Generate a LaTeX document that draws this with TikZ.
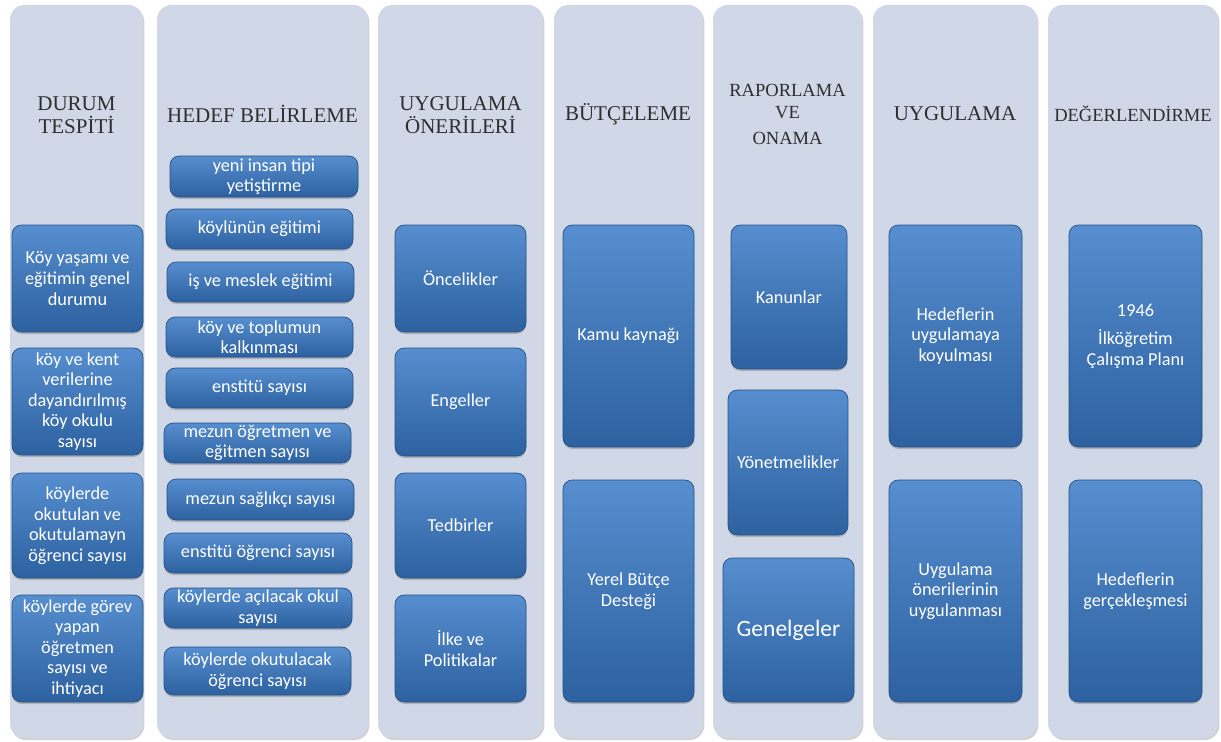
\documentclass[tikz,border=0pt]{standalone}
\usepackage{fontspec}
\setmainfont{Liberation Serif}
\setsansfont{Carlito}
\usetikzlibrary{shadows}

\definecolor{kolonmavi}{RGB}{208,216,232}
\definecolor{kutuust}{RGB}{86,142,207}
\definecolor{kutuorta}{RGB}{64,118,186}
\definecolor{kutualt}{RGB}{45,97,160}
\definecolor{kutukenar}{RGB}{37,80,132}
\definecolor{baslikgri}{RGB}{45,45,45}

\begin{document}
\begin{tikzpicture}[x=0.75pt,y=-0.75pt,
  kolon/.style={fill=kolonmavi, rounded corners=11pt,
    drop shadow={shadow xshift=1pt, shadow yshift=-1.5pt, opacity=0.35}},
  baslik/.style={font=\fontsize{15.75}{17.5}\selectfont, text=baslikgri, align=center},
  kucukbaslik/.style={baslik, font=\fontsize{13.9}{17}\selectfont},
  kutu/.style={rounded corners=7pt, top color=kutuust, middle color=kutuorta, bottom color=kutualt,
    draw=kutukenar, line width=0.5pt, text=white, align=center, inner sep=0pt,
    font=\sffamily\fontsize{13.7}{15.4}\selectfont,
    drop shadow={shadow xshift=0pt, shadow yshift=-1.5pt, opacity=0.45}},
  boyut/.style 2 args={minimum width=#1*0.75pt, minimum height=#2*0.75pt},
]
\fill[white] (0,0) rectangle (1221,742);
\useasboundingbox (0,0) rectangle (1221,742);

%Column backgrounds
\path[kolon] (10,5) rectangle (143,738);
\path[kolon] (157,5) rectangle (368,738);
\path[kolon] (378,5) rectangle (543,738);
\path[kolon] (554,5) rectangle (703,738);
\path[kolon] (713,5) rectangle (862,738);
\path[kolon] (873,5) rectangle (1037,738);
\path[kolon] (1048,5) rectangle (1218,738);

%Headings
\node[baslik] (durum) at (76.5,115) {DURUM\\TESPİTİ};
\node[baslik] (hedef) at (262.5,114) {HEDEF BELİRLEME};
\node[baslik] (oneri) at (460.5,115) {UYGULAMA\\ÖNERİLERİ};
\node[baslik] (butce) at (628,114) {BÜTÇELEME};
\node[kucukbaslik] (rapor) at (787.5,114) {RAPORLAMA\\VE\\[2pt]ONAMA};
\node[baslik] (uygula) at (955,114) {UYGULAMA};
\node[kucukbaslik] (deger) at (1133,114) {DEĞERLENDİRME};

%Durum tespiti
\node[kutu, boyut={131}{107}] (d1) at (77.5,278.5) {Köy yaşamı ve\\eğitimin genel\\durumu};
\node[kutu, boyut={131}{107}] (d2) at (77.5,401.5) {köy ve kent\\verilerine\\dayandırılmış\\köy okulu\\sayısı};
\node[kutu, boyut={131}{105}] (d3) at (77.5,525.5) {köylerde\\okutulan ve\\okutulamayn\\öğrenci sayısı};
\node[kutu, boyut={131}{107}] (d4) at (77.5,648.5) {köylerde görev\\yapan\\öğretmen\\sayısı ve\\ihtiyacı};

%Hedef belirleme
\node[kutu, boyut={188}{41}] (h1) at (264,176.5) {yeni insan tipi\\yetiştirme};
\node[kutu, boyut={187}{40}] (h2) at (259.5,229) {köylünün eğitimi};
\node[kutu, boyut={187}{40}] (h3) at (260.5,282) {iş ve meslek eğitimi};
\node[kutu, boyut={187}{40}] (h4) at (259.5,337) {köy ve toplumun\\kalkınması};
\node[kutu, boyut={187}{40}] (h5) at (259.5,388) {enstitü sayısı};
\node[kutu, boyut={187}{40}] (h6) at (257.5,443) {mezun öğretmen ve\\eğitmen sayısı};
\node[kutu, boyut={187}{41}] (h7) at (260.5,499.5) {mezun sağlıkçı sayısı};
\node[kutu, boyut={188}{40}] (h8) at (258,553) {enstitü öğrenci sayısı};
\node[kutu, boyut={188}{40}] (h9) at (258,608) {köylerde açılacak okul\\sayısı};
\node[kutu, boyut={187}{48}] (h10) at (257.5,671) {köylerde okutulacak\\öğrenci sayısı};

%Uygulama onerileri
\node[kutu, boyut={131}{107}] (u1) at (460.5,278.5) {Öncelikler};
\node[kutu, boyut={131}{108}] (u2) at (460.5,402) {Engeller};
\node[kutu, boyut={131}{105}] (u3) at (460.5,525.5) {Tedbirler};
\node[kutu, boyut={131}{107}] (u4) at (460.5,648.5) {İlke ve\\Politikalar};

%Butceleme
\node[kutu, boyut={131}{222}] (b1) at (628.5,336) {Kamu kaynağı};
\node[kutu, boyut={131}{222}] (b2) at (628.5,591) {Yerel Bütçe\\Desteği};

%Raporlama ve onama
\node[kutu, boyut={116}{144}] (r1) at (789,297) {Kanunlar};
\node[kutu, boyut={120}{145}] (r2) at (788,462.5) {Yönetmelikler};
\node[kutu, boyut={131}{144}, font=\sffamily\fontsize{17.6}{20}\selectfont] (r3) at (788.5,630) {Genelgeler};

%Uygulama
\node[kutu, boyut={133}{222}] (g1) at (955.5,336) {Hedeflerin\\uygulamaya\\koyulması};
\node[kutu, boyut={133}{222}] (g2) at (955.5,591) {Uygulama\\önerilerinin\\uygulanması};

%Degerlendirme
\node[kutu, boyut={133}{222}] (e1) at (1135.5,336) {1946\\[6pt]İlköğretim\\Çalışma Planı};
\node[kutu, boyut={133}{222}] (e2) at (1135.5,591) {Hedeflerin\\gerçekleşmesi};

\end{tikzpicture}
\end{document}
